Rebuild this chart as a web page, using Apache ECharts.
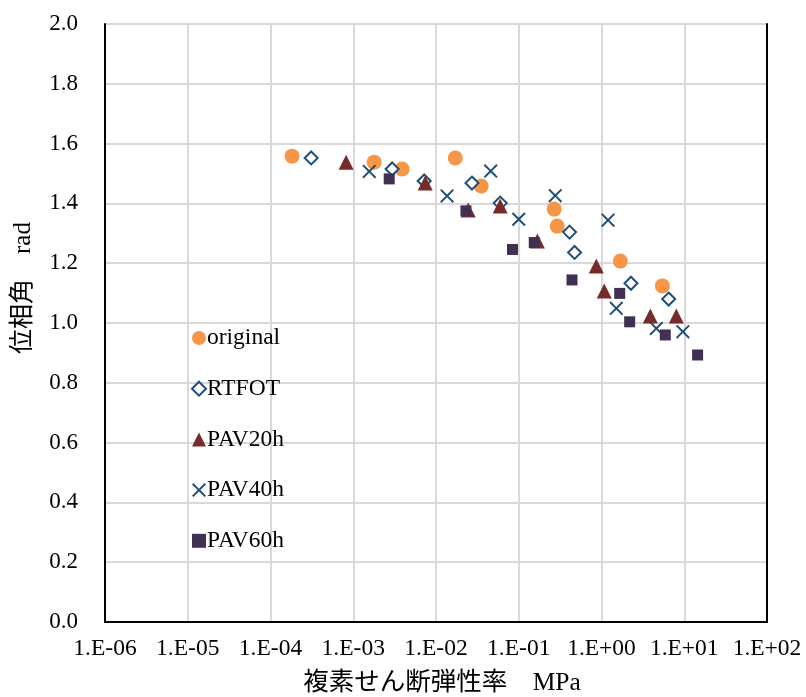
<!DOCTYPE html>
<html>
<head>
<meta charset="utf-8">
<script src="https://cdn.jsdelivr.net/npm/echarts@6/dist/echarts.min.js"></script>
<style>html,body{margin:0;padding:0;background:#fff;}#c{width:806px;height:697px;}</style>
</head>
<body>
<div id="c"></div>
<script>
// ---- data ----
const seriesNames = ['original', 'RTFOT', 'PAV20h', 'PAV40h', 'PAV60h'];
const xTickLabels = ['1.E-06','1.E-05','1.E-04','1.E-03','1.E-02','1.E-01','1.E+00','1.E+01','1.E+02'];
const yTickLabels = ['0.0','0.2','0.4','0.6','0.8','1.0','1.2','1.4','1.6','1.8','2.0'];

const originalX = [1.82e-4, 1.79e-3, 3.9e-3, 1.71e-2, 3.52e-2, 0.268, 0.292, 1.69, 5.43];
const originalY = [1.558, 1.538, 1.515, 1.552, 1.458, 1.381, 1.324, 1.207, 1.124];

const rtfotX = [3.1e-4, 2.95e-3, 7.2e-3, 2.72e-2, 5.97e-2, 0.411, 0.473, 2.27, 6.48];
const rtfotY = [1.552, 1.515, 1.475, 1.468, 1.401, 1.304, 1.236, 1.133, 1.080];

const pav20X = [8.2e-4, 7.4e-3, 2.45e-2, 5.97e-2, 0.168, 0.865, 1.08, 3.89, 8.02];
const pav20Y = [1.538, 1.468, 1.378, 1.391, 1.274, 1.191, 1.107, 1.023, 1.023];

const pav40X = [1.56e-3, 1.36e-2, 4.58e-2, 0.100, 0.276, 1.20, 1.51, 4.60, 9.62];
const pav40Y = [1.507, 1.425, 1.508, 1.347, 1.426, 1.344, 1.049, 0.982, 0.971];

const pav60X = [2.72e-3, 2.30e-2, 8.41e-2, 0.154, 0.440, 1.66, 2.19, 5.90, 14.5];
const pav60Y = [1.482, 1.375, 1.246, 1.269, 1.144, 1.099, 1.004, 0.960, 0.893];

const xTitle = '複素せん断弾性率　MPa';
const yTitle = '位相角　rad';

// ---- chart ----
const zip = (xs, ys) => xs.map((x, i) => [x, ys[i]]);
const serif = "'Liberation Serif','Times New Roman','Noto Sans CJK JP',serif";
const crossPath = 'path://M0,1L1,0L5,4L9,0L10,1L6,5L10,9L9,10L5,6L1,10L0,9L4,5Z';
const frameLine = {show: true, lineStyle: {color: '#000', width: 2}};

const chart = echarts.init(document.getElementById('c'), null, {renderer: 'canvas'});
chart.setOption({
  animation: false,
  backgroundColor: '#ffffff',
  grid: {left: 105, right: 39, top: 24, bottom: 75, show: false},
  xAxis: [{
    type: 'log', logBase: 10, min: 1e-6, max: 1e2, interval: 1,
    axisLine: frameLine,
    axisTick: {show: false},
    splitLine: {show: true, lineStyle: {color: '#d9d9d9', width: 2}},
    axisLabel: {
      margin: 15, color: '#000', fontFamily: serif, fontSize: 23.5,
      formatter: v => xTickLabels[Math.round(Math.log10(v)) + 6]
    }
  }, {
    type: 'log', logBase: 10, min: 1e-6, max: 1e2, interval: 1, position: 'top',
    axisLine: frameLine, axisTick: {show: false}, axisLabel: {show: false}, splitLine: {show: false}
  }],
  yAxis: [{
    type: 'value', min: 0, max: 2, interval: 0.2,
    axisLine: frameLine,
    axisTick: {show: false},
    splitLine: {show: true, lineStyle: {color: '#d9d9d9', width: 2}},
    axisLabel: {
      margin: 27, color: '#000', fontFamily: serif, fontSize: 23,
      formatter: v => yTickLabels[Math.round(v * 5)]
    }
  }, {
    type: 'value', min: 0, max: 2, interval: 0.2, position: 'right',
    axisLine: frameLine, axisTick: {show: false}, axisLabel: {show: false}, splitLine: {show: false}
  }],
  legend: {
    orient: 'vertical', left: 186, top: 321,
    itemWidth: 14, itemHeight: 14, itemGap: 26.7,
    textStyle: {color: '#000', fontFamily: serif, fontSize: 23.5, lineHeight: 24, padding: [0, 0, 0, -4]},
    data: seriesNames
  },
  graphic: [
    {type: 'text', x: 23, y: 288, rotation: Math.PI / 2,
     style: {text: yTitle, fill: '#000', font: "25px 'Liberation Serif','Noto Sans CJK JP',serif", textAlign: 'center', textVerticalAlign: 'middle'}},
    {type: 'text', x: 442, y: 683,
     style: {text: xTitle, fill: '#000', font: "25.5px 'Liberation Serif','Noto Sans CJK JP',serif", textAlign: 'center', textVerticalAlign: 'middle'}}
  ],
  series: [
    {name: seriesNames[0], type: 'scatter', symbol: 'circle', symbolSize: 15,
     itemStyle: {color: '#F79646', opacity: 1}, data: zip(originalX, originalY)},
    {name: seriesNames[1], type: 'scatter', symbol: 'diamond', symbolSize: 13,
     itemStyle: {color: '#ffffff', borderColor: '#1F4E79', borderWidth: 2, opacity: 1}, data: zip(rtfotX, rtfotY)},
    {name: seriesNames[2], type: 'scatter', symbol: 'triangle', symbolSize: 15,
     itemStyle: {color: '#772C2A', opacity: 1}, data: zip(pav20X, pav20Y)},
    {name: seriesNames[3], type: 'scatter', symbol: crossPath, symbolSize: 14,
     itemStyle: {color: '#1F4E79', opacity: 1}, data: zip(pav40X, pav40Y)},
    {name: seriesNames[4], type: 'scatter', symbol: 'rect', symbolSize: 11,
     itemStyle: {color: '#403152', opacity: 1}, data: zip(pav60X, pav60Y)}
  ]
});
</script>
</body>
</html>
